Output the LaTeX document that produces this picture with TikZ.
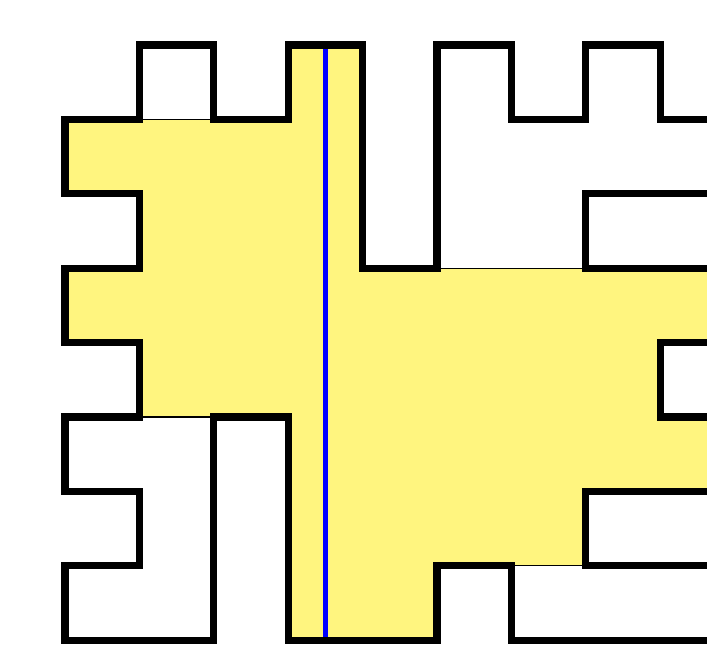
\documentclass[tikz,border=0pt]{standalone}
\usepackage{xcolor}
\usepackage{tikz}
\definecolor{clrRegion}{HTML}{FFF57F}
\definecolor{clrCut}{HTML}{0000FF}
\tikzset{
  region/.style={fill=clrRegion, draw=black, line width=0.4pt},
  outline/.style={draw=black, line width=2.8pt, line join=miter},
  cutline/.style={draw=clrCut, line width=2pt},
}
\begin{document}
\begin{tikzpicture}[yscale=-1]

% grid unit = 1cm, rows counted downwards; the shape runs on past the right edge
\def\xend{10}
\def\xcut{3.5}

\useasboundingbox (-0.874,-0.605) rectangle (8.629,8.118);
\clip (-0.874,-0.605) rectangle (8.629,8.118);

% ── shaded region ──────────────────────────────────────────────────────────
\path[region] (3,0) -- (4,0) -- (4,3) -- (\xend,3) -- (\xend,4) -- (8,4)
  -- (8,5) -- (\xend,5) -- (\xend,6) -- (7,6) -- (7,7) -- (5,7) -- (5,8)
  -- (3,8) -- (3,5) -- (1,5) -- (1,4) -- (0,4) -- (0,3) -- (1,3) -- (1,2)
  -- (0,2) -- (0,1) -- (3,1) -- cycle;

% ── vertical cut ───────────────────────────────────────────────────────────
\draw[cutline] (\xcut,0) -- (\xcut,8);

% ── boundary of the shape ──────────────────────────────────────────────────
\draw[outline] (1,1) -- (1,0) -- (2,0) -- (2,1) -- (3,1) -- (3,0) -- (4,0)
  -- (4,3) -- (5,3) -- (5,0) -- (6,0) -- (6,1) -- (7,1) -- (7,0) -- (8,0)
  -- (8,1) -- (\xend,1) -- (\xend,2) -- (7,2) -- (7,3) -- (\xend,3)
  -- (\xend,4) -- (8,4) -- (8,5) -- (\xend,5) -- (\xend,6) -- (7,6)
  -- (7,7) -- (\xend,7) -- (\xend,8) -- (6,8) -- (6,7) -- (5,7) -- (5,8)
  -- (3,8) -- (3,5) -- (2,5) -- (2,8) -- (0,8) -- (0,7) -- (1,7) -- (1,6)
  -- (0,6) -- (0,5) -- (1,5) -- (1,4) -- (0,4) -- (0,3) -- (1,3) -- (1,2)
  -- (0,2) -- (0,1) -- cycle;

\end{tikzpicture}
\end{document}
